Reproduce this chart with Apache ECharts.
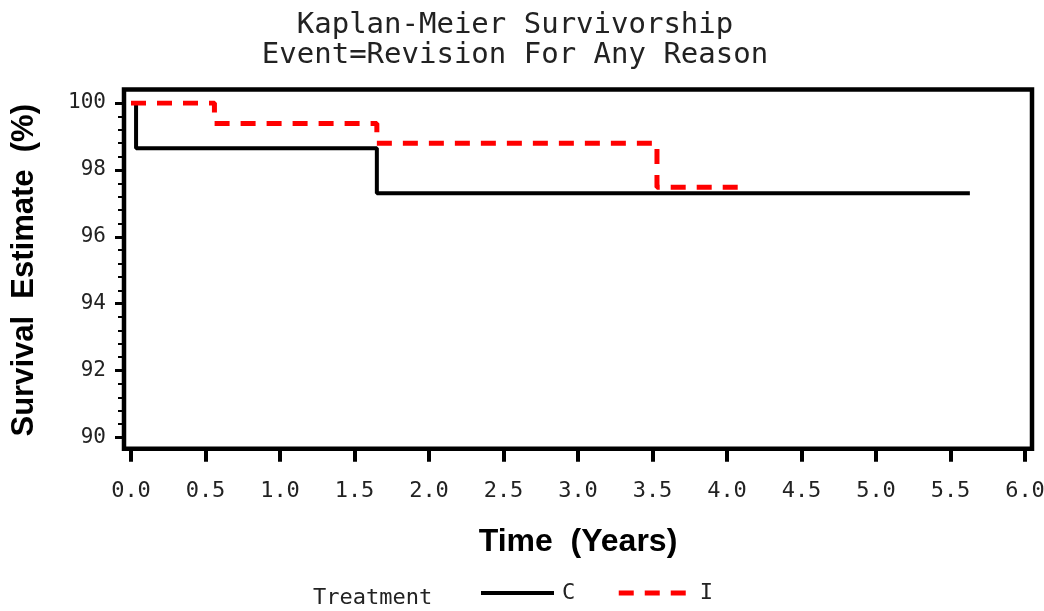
<!DOCTYPE html>
<html>
<head>
<meta charset="utf-8">
<title>Kaplan-Meier Survivorship</title>
<script src="https://cdn.jsdelivr.net/npm/echarts@6/dist/echarts.min.js"></script>
<style>
  html, body { margin: 0; padding: 0; background: #fff; }
  #chart { width: 1044px; height: 611px; }
</style>
</head>
<body>
<div id="chart"></div>
<script>
// Kaplan-Meier steps (time in years, survival in %)
const timeC = [0, 0.034, 1.65, 5.63]
const survC = [100, 98.65, 97.30, 97.30]
const timeI = [0, 0.56, 1.65, 3.53, 4.12]
const survI = [100, 99.39, 98.80, 97.48, 97.48]

const groups = ['C', 'I']
const xRange = [0, 6]
const xStep = 0.5
const yRange = [90, 100]
const yStep = 2

const titleLines = ['Kaplan-Meier Survivorship', 'Event=Revision For Any Reason']

const mono = "'DejaVu Sans Mono', monospace"
const sans = "'Liberation Sans', Arial, sans-serif"

const chart = echarts.init(document.getElementById('chart'), null, { renderer: 'canvas' })

const toPairs = (xs, ys) => xs.map((x, i) => [x, ys[i]])

const option = {
  animation: false,
  backgroundColor: '#fff',
  grid: [
    // data area
    { left: 131, right: 19, top: 103, bottom: 173.5, outerBoundsMode: 'none', containLabel: false },
    // outer frame
    {
      left: 124, right: 12, top: 89.5, bottom: 162.3,
      outerBoundsMode: 'none', containLabel: false,
      show: true, borderColor: '#000', borderWidth: 4.5, backgroundColor: 'transparent'
    }
  ],
  xAxis: [
    {
      gridIndex: 0,
      type: 'value',
      min: xRange[0],
      max: xRange[1],
      interval: xStep,
      offset: 11.2,
      axisLine: { show: false, onZero: false },
      axisTick: { show: true, length: 13, lineStyle: { width: 4, color: '#000' } },
      axisLabel: {
        margin: 32,
        fontFamily: mono,
        fontSize: 22,
        color: '#222',
        formatter: v => v.toFixed(1)
      },
      splitLine: { show: false },
      name: 'Time  (Years)',
      nameLocation: 'middle',
      nameGap: 77,
      nameMoveOverlap: false,
      nameTextStyle: { fontFamily: sans, fontWeight: 'bold', fontSize: 32, color: '#000' }
    },
    { gridIndex: 1, type: 'value', show: false, min: 0, max: 1 }
  ],
  yAxis: [
    {
      gridIndex: 0,
      type: 'value',
      min: yRange[0],
      max: yRange[1],
      interval: yStep,
      offset: 7,
      axisLine: { show: false, onZero: false },
      axisTick: { show: true, length: 9, lineStyle: { width: 3, color: '#000' } },
      minorTick: { show: true, splitNumber: 5, length: 6, lineStyle: { width: 2, color: '#000' } },
      axisLabel: { margin: 18, fontFamily: mono, fontSize: 21, color: '#222' },
      splitLine: { show: false },
      name: 'Survival  Estimate  (%)',
      nameLocation: 'middle',
      nameGap: 84,
      nameMoveOverlap: false,
      nameTextStyle: { fontFamily: sans, fontWeight: 'bold', fontSize: 31, color: '#000' }
    },
    { gridIndex: 1, type: 'value', show: false, min: 0, max: 1 }
  ],
  legend: {
    data: groups,
    left: 479,
    top: 582,
    padding: 0,
    itemWidth: 73,
    itemHeight: 14,
    itemGap: 41,
    lineStyle: { width: 'inherit' },
    itemStyle: { opacity: 0 },
    textStyle: { fontFamily: mono, fontSize: 22, color: '#222', padding: [0, 0, 0, 3] }
  },
  graphic: [
    {
      type: 'text', x: 515, y: 25,
      style: { text: titleLines[0], fontFamily: mono, fontSize: 29, fill: '#222', align: 'center', verticalAlign: 'middle' }
    },
    {
      type: 'text', x: 515, y: 55,
      style: { text: titleLines[1], fontFamily: mono, fontSize: 29, fill: '#222', align: 'center', verticalAlign: 'middle' }
    },
    {
      type: 'text', x: 313, y: 598,
      style: { text: 'Treatment', fontFamily: mono, fontSize: 22, fill: '#222', align: 'left', verticalAlign: 'middle' }
    }
  ],
  series: [
    {
      name: groups[0],
      type: 'line',
      xAxisIndex: 0,
      yAxisIndex: 0,
      step: 'end',
      symbol: 'none',
      data: toPairs(timeC, survC),
      lineStyle: { color: '#000', width: 4 },
      itemStyle: { color: '#000' }
    },
    {
      name: groups[1],
      type: 'line',
      xAxisIndex: 0,
      yAxisIndex: 0,
      step: 'end',
      symbol: 'none',
      data: toPairs(timeI, survI),
      lineStyle: { color: '#ff0000', width: 5, type: [15, 11] },
      itemStyle: { color: '#ff0000' }
    }
  ]
}

chart.setOption(option)
</script>
</body>
</html>
